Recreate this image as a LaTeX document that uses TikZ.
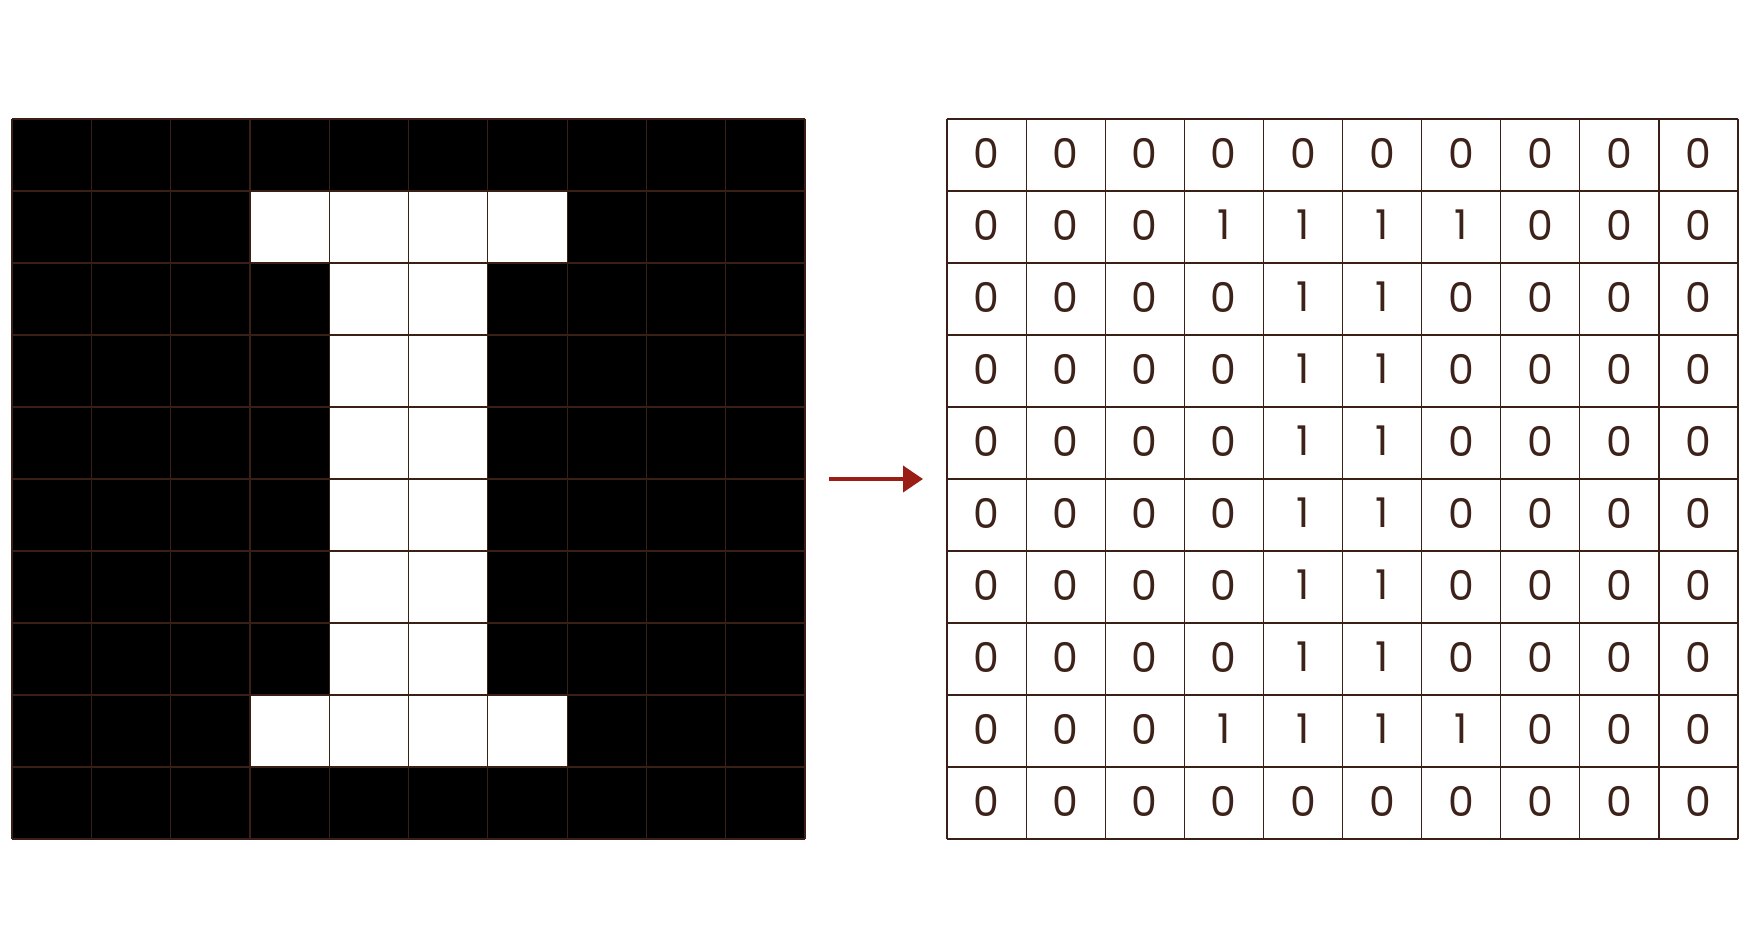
\documentclass[tikz,border=0pt]{standalone}
\usepackage{fontspec}
\setmainfont{Poppins}
\usetikzlibrary{arrows.meta}
\definecolor{gridline}{HTML}{3A1F17}
\definecolor{digitcol}{HTML}{3D2219}
\definecolor{arrowred}{HTML}{9A1E14}
\tikzset{
  gridrule/.style={draw=gridline, line width=0.6bp},
  digitnode/.style={text=digitcol, inner sep=0pt, font=\fontsize{20.5bp}{24bp}\selectfont},
  sketcharrow/.style={draw=arrowred, line width=2bp, -{Triangle[length=10bp, width=13bp]}}
}
\begin{document}
\begin{tikzpicture}[x=0.5bp,y=-0.5bp]
\fill[white] (0,0) rectangle (1748,948);
\useasboundingbox (0,0) rectangle (1748,948);
% cells
\foreach \r in {0,...,9}{
  \foreach \c in {0,...,9}{
    \pgfmathtruncatemacro\v{(((\r==1)||(\r==8))&&(\c>=3)&&(\c<=6)) || ((\r>=2)&&(\r<=7)&&((\c==4)||(\c==5))) ? 1 : 0}
    \ifnum\v=1 \def\cc{white}\else\def\cc{black}\fi
    \fill[\cc] ({12+79.3*\c},{119+72*\r}) rectangle ({12+79.3*(\c+1)},{119+72*(\r+1)});
    \node[digitnode] (d-\r-\c) at ({947+79.1*(\c+0.5)},{119+72*(\r+0.5)-2}) {\v};
  }
}
% grid lines
\foreach \i in {0,...,10}{
  \draw[gridrule] ({12+79.3*\i},119) -- ({12+79.3*\i},839);
  \draw[gridrule] (12,{119+72*\i}) -- (805,{119+72*\i});
  \draw[gridrule] ({947+79.1*\i},119) -- ({947+79.1*\i},839);
  \draw[gridrule] (947,{119+72*\i}) -- (1738,{119+72*\i});
}
% arrow
\coordinate (arrowstart) at (829,479);
\coordinate (arrowend) at (923,479);
\draw[sketcharrow] (arrowstart) -- (arrowend);
\end{tikzpicture}
\end{document}
